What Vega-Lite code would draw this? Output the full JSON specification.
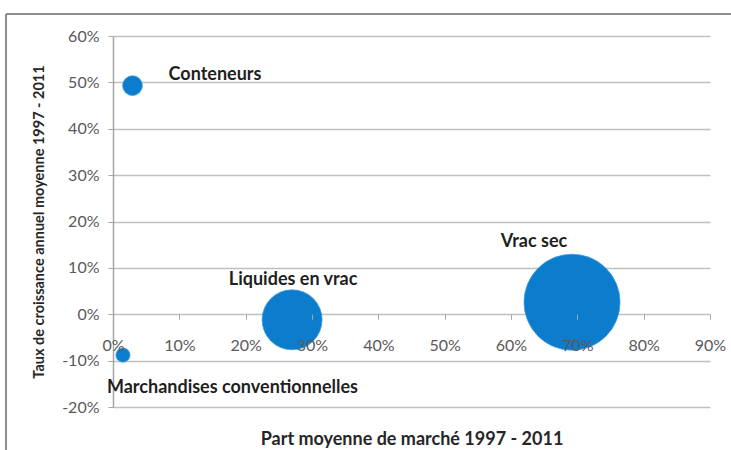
{
  "$schema": "https://vega.github.io/schema/vega-lite/v6.json",
  "width": 597,
  "height": 371,
  "autosize": "none",
  "padding": {"left": 113, "top": 36, "right": 21, "bottom": 43},
  "background": "white",
  "config": {"view": {"stroke": null}},
  "datasets": {
    "bulles": [
      {"categorie": "Conteneurs", "part": 0.0294, "croissance": 0.493},
      {"categorie": "Marchandises conventionnelles", "part": 0.015, "croissance": -0.088},
      {"categorie": "Liquides en vrac", "part": 0.27, "croissance": -0.012},
      {"categorie": "Vrac sec", "part": 0.692, "croissance": 0.026}
    ]
  },
  "layer": [
    {
      "data": {"values": [{"cadre": "haut"}]},
      "mark": {"type": "rule", "color": "#8c8c8c", "strokeWidth": 2, "clip": false},
      "encoding": {
        "x": {"datum": -0.1613, "type": "quantitative", "scale": {"domain": [0, 0.9], "nice": false, "zero": false}},
        "x2": {"datum": 1.0},
        "y": {"datum": 0.6475, "type": "quantitative", "scale": {"domain": [-0.2, 0.6], "nice": false, "zero": false}}
      }
    },
    {
      "data": {"values": [{"cadre": "gauche"}]},
      "mark": {"type": "rule", "color": "#8c8c8c", "strokeWidth": 2, "clip": false},
      "encoding": {
        "x": {"datum": -0.1613, "type": "quantitative"},
        "y": {"datum": 0.6475, "type": "quantitative"},
        "y2": {"datum": -0.35}
      }
    },
    {
      "data": {"name": "bulles"},
      "mark": {"type": "circle", "color": "#0b7dcc", "opacity": 1, "stroke": "#3d9be0", "strokeWidth": 0.8},
      "encoding": {
        "x": {
          "field": "part", "type": "quantitative",
          "scale": {"domain": [0, 0.9], "nice": false, "zero": false},
          "axis": {
            "orient": "bottom", "offset": -92.75, "zindex": 1,
            "values": [0, 0.1, 0.2, 0.3, 0.4, 0.5, 0.6, 0.7, 0.8, 0.9],
            "labelExpr": "round(datum.value*100) + '%'",
            "grid": false,
            "domain": false,
            "tickColor": "#a6a6a6", "tickSize": 5, "tickWidth": 1,
            "labelFont": "Lato", "labelFontSize": 16, "labelColor": "#595959",
            "labelPadding": 18, "labelFlush": false, "labelOverlap": false,
            "title": "Part moyenne de marché 1997 - 2011",
            "titleFont": "Lato", "titleFontSize": 18, "titleFontWeight": "bold", "titleColor": "#262626",
            "titlePadding": 77
          }
        },
        "y": {
          "field": "croissance", "type": "quantitative",
          "scale": {"domain": [-0.2, 0.6], "nice": false, "zero": false},
          "axis": {
            "values": [-0.2, -0.1, 0, 0.1, 0.2, 0.3, 0.4, 0.5, 0.6],
            "labelExpr": "round(datum.value*100) + '%'",
            "grid": true, "gridColor": "#c0c0c0", "gridWidth": 1.5,
            "domainColor": "#a6a6a6", "domainWidth": 1.5,
            "tickColor": "#a6a6a6", "tickSize": 5,
            "labelFont": "Lato", "labelFontSize": 16, "labelColor": "#595959",
            "labelPadding": 9, "labelFlush": false, "labelOverlap": false,
            "title": "Taux de croissance annuel moyenne 1997 - 2011",
            "titleFont": "Lato", "titleFontSize": 14.5, "titleFontWeight": "bold", "titleColor": "#262626",
            "titlePadding": 15
          }
        },
        "size": {"field": "part", "type": "quantitative", "scale": {"type": "linear", "domain": [0, 1], "range": [0, 13318]}, "legend": null}
      }
    },
    {
      "data": {"name": "bulles"},
      "transform": [{"filter": "datum.categorie == 'Conteneurs'"}],
      "mark": {"type": "text", "font": "Lato", "fontSize": 18, "fontWeight": "bold", "color": "#1f1f1f", "align": "center", "baseline": "middle", "dx": 82.5, "dy": -10.5},
      "encoding": {"x": {"field": "part", "type": "quantitative"}, "y": {"field": "croissance", "type": "quantitative"}, "text": {"field": "categorie"}}
    },
    {
      "data": {"name": "bulles"},
      "transform": [{"filter": "datum.categorie == 'Liquides en vrac'"}],
      "mark": {"type": "text", "font": "Lato", "fontSize": 18, "fontWeight": "bold", "color": "#1f1f1f", "align": "center", "baseline": "middle", "dx": 1, "dy": -40},
      "encoding": {"x": {"field": "part", "type": "quantitative"}, "y": {"field": "croissance", "type": "quantitative"}, "text": {"field": "categorie"}}
    },
    {
      "data": {"name": "bulles"},
      "transform": [{"filter": "datum.categorie == 'Vrac sec'"}],
      "mark": {"type": "text", "font": "Lato", "fontSize": 18, "fontWeight": "bold", "color": "#1f1f1f", "align": "center", "baseline": "middle", "dx": -38, "dy": -60},
      "encoding": {"x": {"field": "part", "type": "quantitative"}, "y": {"field": "croissance", "type": "quantitative"}, "text": {"field": "categorie"}}
    },
    {
      "data": {"name": "bulles"},
      "transform": [{"filter": "datum.categorie == 'Marchandises conventionnelles'"}],
      "mark": {"type": "text", "font": "Lato", "fontSize": 18, "fontWeight": "bold", "color": "#1f1f1f", "align": "center", "baseline": "middle", "dx": 109.5, "dy": 33},
      "encoding": {"x": {"field": "part", "type": "quantitative"}, "y": {"field": "croissance", "type": "quantitative"}, "text": {"field": "categorie"}}
    }
  ]
}
